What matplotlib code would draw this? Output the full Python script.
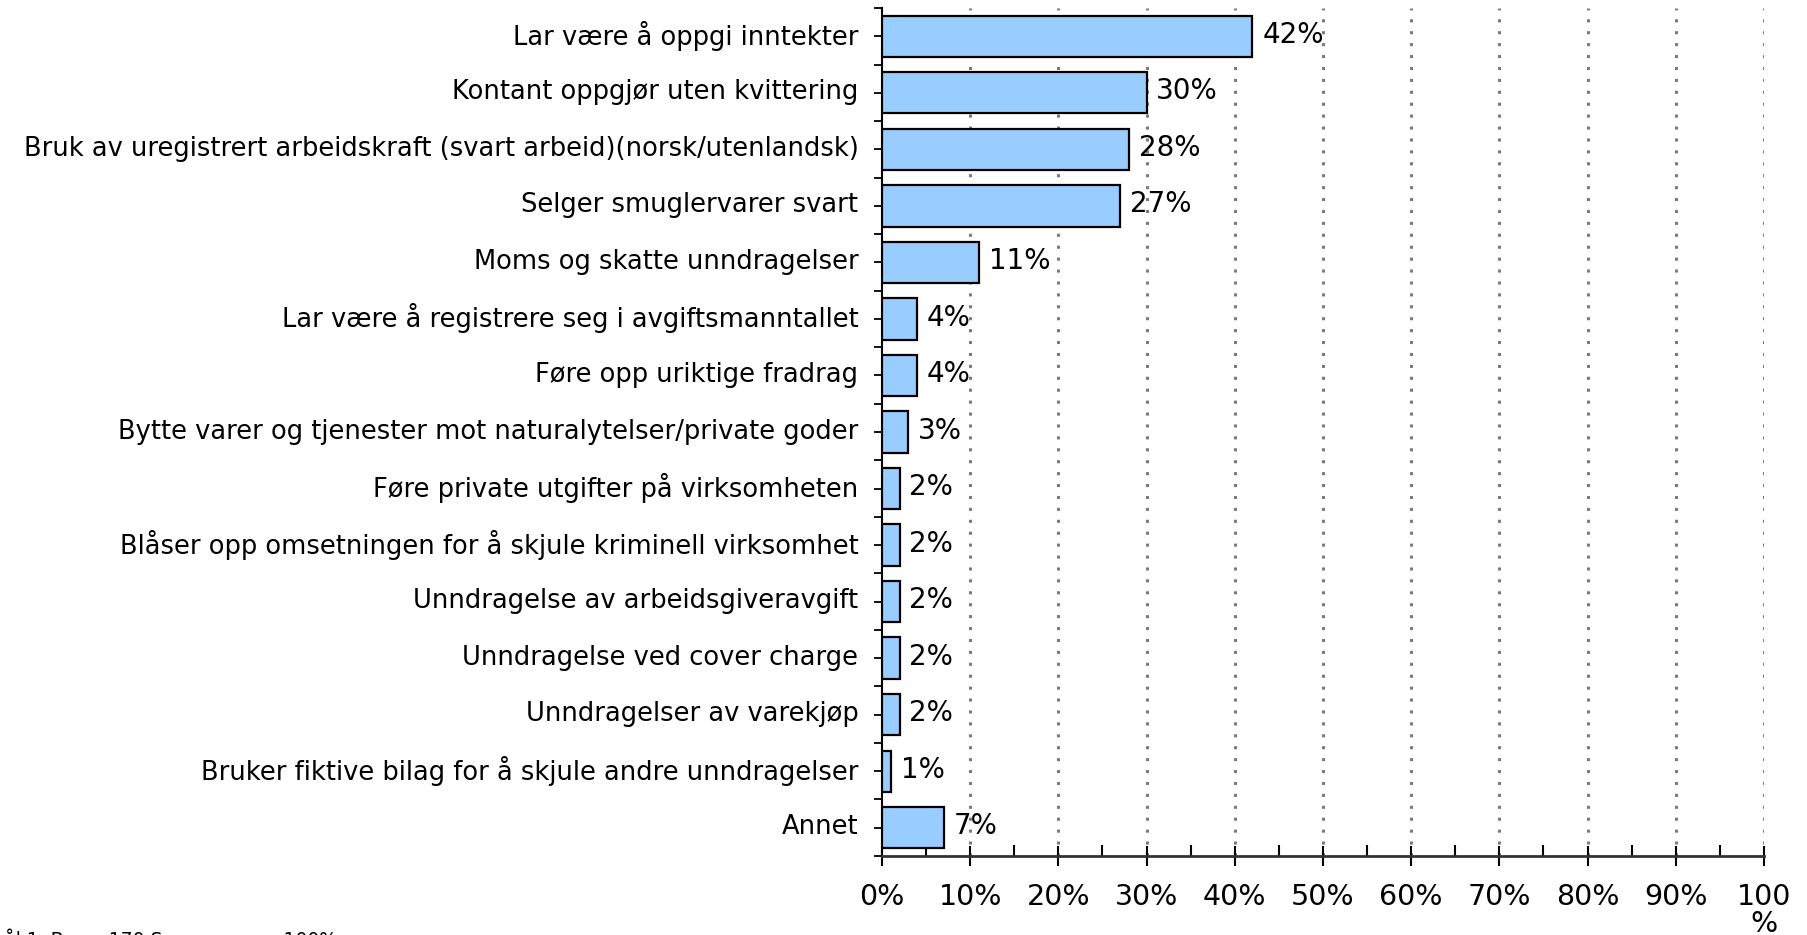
import matplotlib
matplotlib.use("Agg")
import matplotlib.pyplot as plt
import matplotlib.transforms as mtransforms
from matplotlib.ticker import MultipleLocator, FixedLocator

plt.rcParams['font.family'] = ['DejaVu Sans']

categories = [
    "Lar være å oppgi inntekter",
    "Kontant oppgjør uten kvittering",
    "Bruk av uregistrert arbeidskraft (svart arbeid)(norsk/utenlandsk)",
    "Selger smuglervarer svart",
    "Moms og skatte unndragelser",
    "Lar være å registrere seg i avgiftsmanntallet",
    "Føre opp uriktige fradrag",
    "Bytte varer og tjenester mot naturalytelser/private goder",
    "Føre private utgifter på virksomheten",
    "Blåser opp omsetningen for å skjule kriminell virksomhet",
    "Unndragelse av arbeidsgiveravgift",
    "Unndragelse ved cover charge",
    "Unndragelser av varekjøp",
    "Bruker fiktive bilag for å skjule andre unndragelser",
    "Annet",
]
values = [42, 30, 28, 27, 11, 4, 4, 3, 2, 2, 2, 2, 2, 1, 7]
x_ticks = [0, 10, 20, 30, 40, 50, 60, 70, 80, 90, 100]
x_tick_labels = ["0%", "10%", "20%", "30%", "40%", "50%", "60%", "70%", "80%", "90%", "100\n%"]
footnote = "Spørsmål 1. Base: 170 Sum mer enn 100%"

W, H = 1808, 935
fig = plt.figure(figsize=(W / 100, H / 100), dpi=100)
left, right = 882 / W, 1764 / W
top, bottom = 1 - 8 / H, 1 - 856 / H
ax = fig.add_axes([left, bottom, right - left, top - bottom])

ypos = list(range(len(categories)))
ax.barh(ypos, values, height=0.73, color="#99CCFF", edgecolor="black", linewidth=1.6, zorder=3)

for y, v in zip(ypos, values):
    ax.annotate(f"{v}%", xy=(v, y), xytext=(7, 1), textcoords="offset points",
                va="center", ha="left", fontsize=20, color="black", zorder=4)

ax.set_xlim(0, 100)
ax.set_ylim(len(categories) - 0.5, -0.5)

# gridlines
for x in x_ticks[1:]:
    ax.axvline(x, color="#7a7a7a", linewidth=2.2, linestyle=(0, (1.0, 2.9)), zorder=1)

ax.set_yticks(ypos)
ax.set_yticklabels(categories, fontsize=18.5)
ax.yaxis.set_minor_locator(FixedLocator([i - 0.5 for i in range(len(categories) + 1)]))
ax.tick_params(axis="y", which="both", direction="out", length=6, width=1.3, pad=11)
shift = mtransforms.ScaledTranslation(0, 2.5 / 72, fig.dpi_scale_trans)
for lab in ax.get_yticklabels():
    lab.set_transform(lab.get_transform() + shift)

ax.set_xticks(x_ticks)
ax.set_xticklabels(x_tick_labels, fontsize=20.5, linespacing=0.95)
ax.xaxis.set_minor_locator(MultipleLocator(5))
ax.tick_params(axis="x", which="major", direction="inout", length=15, width=1.5, pad=12)
ax.tick_params(axis="x", which="minor", direction="in", length=8, width=1.5)

for s in ["top", "right"]:
    ax.spines[s].set_visible(False)
ax.spines["left"].set_linewidth(1.5)
ax.spines["bottom"].set_linewidth(2.0)
ax.spines["bottom"].set_color("#333333")

fig.text(337 / W, 1 - 929 / H, footnote, ha="right", va="top", fontsize=13.5)

fig.savefig("out.png", dpi=100)
